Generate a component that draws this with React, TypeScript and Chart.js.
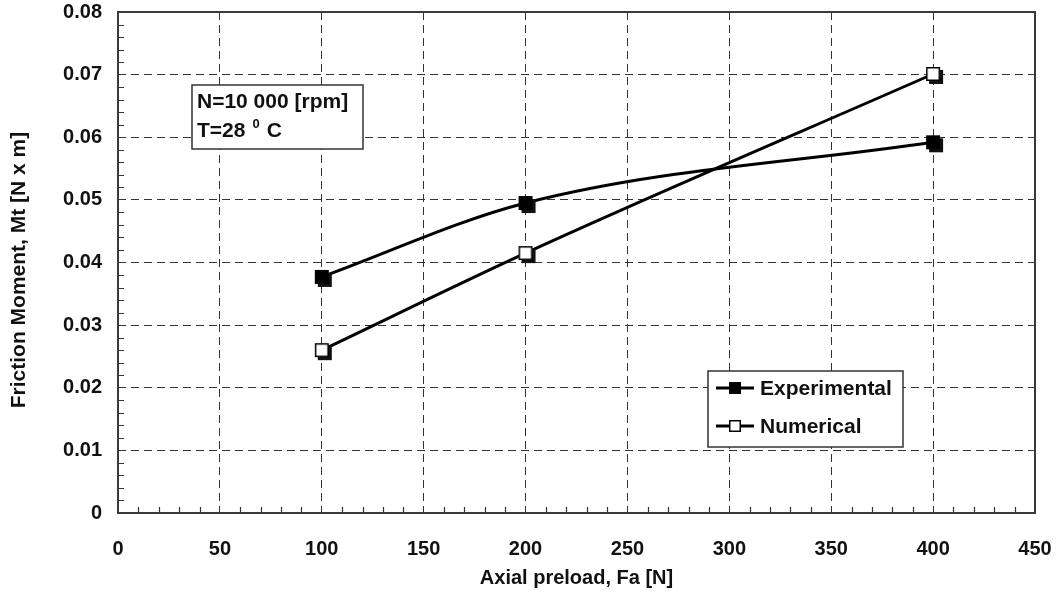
import React, { useEffect, useRef } from "react";
import { Chart, registerables } from "chart.js";

Chart.register(...registerables);

const preloads = [100, 200, 400];
const experimental = [0.0377, 0.0495, 0.0592];
const numerical = [0.026, 0.0415, 0.0701];
const seriesNames = ["Experimental", "Numerical"];
const xTitle = "Axial preload, Fa [N]";
const yTitle = "Friction Moment, Mt [N x m]";
const noteLines = ["N=10 000 [rpm]", "T=28", "0", "C"];

const FONT = "'Liberation Sans', Arial, sans-serif";

function makeMarker(filled: boolean, side: number, shadow: number) {
  const pad = shadow + 1;
  const size = side + 2 * pad;
  const c = document.createElement("canvas");
  c.width = size;
  c.height = size;
  const ctx = c.getContext("2d")!;
  const o = pad;
  if (shadow > 0) {
    ctx.fillStyle = "#111";
    ctx.fillRect(o + shadow, o + shadow, side, side);
  }
  ctx.fillStyle = filled ? "#000" : "#fff";
  ctx.fillRect(o, o, side, side);
  ctx.strokeStyle = "#000";
  ctx.lineWidth = 1.5;
  ctx.strokeRect(o + 0.75, o + 0.75, side - 1.5, side - 1.5);
  return c;
}

export default function App() {
  const ref = useRef<HTMLCanvasElement | null>(null);

  useEffect(() => {
    document.body.style.margin = "0";
    const canvas = ref.current!;
    const mExp = makeMarker(true, 14, 3);
    const mNum = makeMarker(false, 14, 3);
    const lExp = makeMarker(true, 12, 0);
    const lNum = makeMarker(false, 12, 0);

    const decor = {
      id: "decor",
      beforeDatasetsDraw(chart: any) {
        const { ctx, chartArea: a, scales } = chart;
        const x = scales.x;
        const y = scales.y;
        ctx.save();
        ctx.setLineDash([]);
        ctx.strokeStyle = "#333";
        ctx.lineWidth = 1.2;
        ctx.beginPath();
        for (let v = 0; v <= 450; v += 10) {
          if (v % 50 === 0) continue;
          const px = Math.round(x.getPixelForValue(v)) + 0.5;
          ctx.moveTo(px, a.bottom);
          ctx.lineTo(px, a.bottom - 6);
        }
        for (let i = 0; i <= 40; i++) {
          if (i % 5 === 0) continue;
          const py = Math.round(y.getPixelForValue(i * 0.002)) + 0.5;
          ctx.moveTo(a.left, py);
          ctx.lineTo(a.left + 6, py);
        }
        ctx.stroke();
        ctx.strokeStyle = "#3a3a3a";
        ctx.lineWidth = 2;
        ctx.strokeRect(a.left, a.top, a.right - a.left, a.bottom - a.top);
        ctx.restore();
      },
      afterDraw(chart: any) {
        const { ctx, chartArea: a } = chart;
        ctx.save();
        ctx.setLineDash([]);
        ctx.fillStyle = "#111";
        ctx.textAlign = "center";
        ctx.textBaseline = "middle";
        ctx.font = `bold 20px ${FONT}`;
        ctx.fillText(xTitle, (a.left + a.right) / 2, 578);
        ctx.save();
        ctx.translate(19, 270);
        ctx.rotate(-Math.PI / 2);
        ctx.font = `bold 21px ${FONT}`;
        ctx.fillText(yTitle, 0, 0);
        ctx.restore();

        // note box
        ctx.fillStyle = "#fff";
        ctx.fillRect(192, 85, 171, 64);
        ctx.strokeStyle = "#333";
        ctx.lineWidth = 1.5;
        ctx.strokeRect(192, 85, 171, 64);
        ctx.fillStyle = "#111";
        ctx.textAlign = "left";
        ctx.textBaseline = "alphabetic";
        ctx.font = `bold 21px ${FONT}`;
        ctx.fillText(noteLines[0], 197, 108);
        ctx.fillText(noteLines[1], 197, 137);
        const w1 = ctx.measureText(noteLines[1]).width;
        ctx.font = `bold 13px ${FONT}`;
        ctx.fillText(noteLines[2], 197 + w1 + 7, 128);
        const w2 = ctx.measureText(noteLines[2]).width;
        ctx.font = `bold 21px ${FONT}`;
        ctx.fillText(noteLines[3], 197 + w1 + 7 + w2 + 7, 137);

        // legend box
        ctx.fillStyle = "#fff";
        ctx.fillRect(708, 371, 195, 76);
        ctx.strokeStyle = "#333";
        ctx.lineWidth = 1.5;
        ctx.strokeRect(708, 371, 195, 76);
        const rows = [388, 426];
        const marks = [lExp, lNum];
        rows.forEach((ry, i) => {
          ctx.strokeStyle = "#000";
          ctx.lineWidth = 3;
          ctx.beginPath();
          ctx.moveTo(716, ry);
          ctx.lineTo(754, ry);
          ctx.stroke();
          const m = marks[i];
          ctx.drawImage(m, 735 - m.width / 2, ry - m.height / 2);
          ctx.fillStyle = "#111";
          ctx.font = `bold 21px ${FONT}`;
          ctx.textBaseline = "middle";
          ctx.fillText(seriesNames[i], 760, ry + 1);
        });
        ctx.restore();
      },
    };

    const chart = new Chart(canvas, {
      type: "line",
      data: {
        datasets: [
          {
            label: seriesNames[0],
            data: preloads.map((p, i) => ({ x: p, y: experimental[i] })),
            borderColor: "#000",
            borderWidth: 3,
            pointStyle: mExp as any,
            cubicInterpolationMode: "monotone",
            tension: 0.4,
          },
          {
            label: seriesNames[1],
            data: preloads.map((p, i) => ({ x: p, y: numerical[i] })),
            borderColor: "#000",
            borderWidth: 3,
            pointStyle: mNum as any,
            cubicInterpolationMode: "monotone",
            tension: 0.4,
          },
        ],
      },
      options: {
        animation: false,
        responsive: false,
        devicePixelRatio: 1,
        layout: { padding: { left: 0, right: 23, top: 12, bottom: 0 } },
        plugins: {
          legend: { display: false },
          tooltip: { enabled: false },
          title: { display: false },
        },
        scales: {
          x: {
            type: "linear",
            min: 0,
            max: 450,
            ticks: {
              stepSize: 50,
              color: "#111",
              font: { family: FONT, size: 20, weight: "bold" },
              padding: 24,
            },
            grid: { color: "#333", lineWidth: 1, drawTicks: false },
            border: { display: false, dash: [8, 5] },
            afterFit(scale: any) {
              scale.height = 84;
              scale.paddingLeft = 0;
              scale.paddingRight = 0;
            },
          },
          y: {
            type: "linear",
            min: 0,
            max: 0.08,
            ticks: {
              stepSize: 0.01,
              color: "#111",
              font: { family: FONT, size: 20, weight: "bold" },
              padding: 16,
              callback: (v: any) => (Number(v) === 0 ? "0" : Number(v).toFixed(2)),
            },
            grid: { color: "#333", lineWidth: 1, drawTicks: false },
            border: { display: false, dash: [8, 5] },
            afterFit(scale: any) {
              scale.width = 118;
              scale.paddingTop = 0;
              scale.paddingBottom = 0;
            },
          },
        },
      },
      plugins: [decor],
    } as any);
    return () => chart.destroy();
  }, []);

  return (
    <div style={{ width: 1058, height: 597, background: "#fff" }}>
      <canvas ref={ref} width={1058} height={597} style={{ display: "block" }} />
    </div>
  );
}
